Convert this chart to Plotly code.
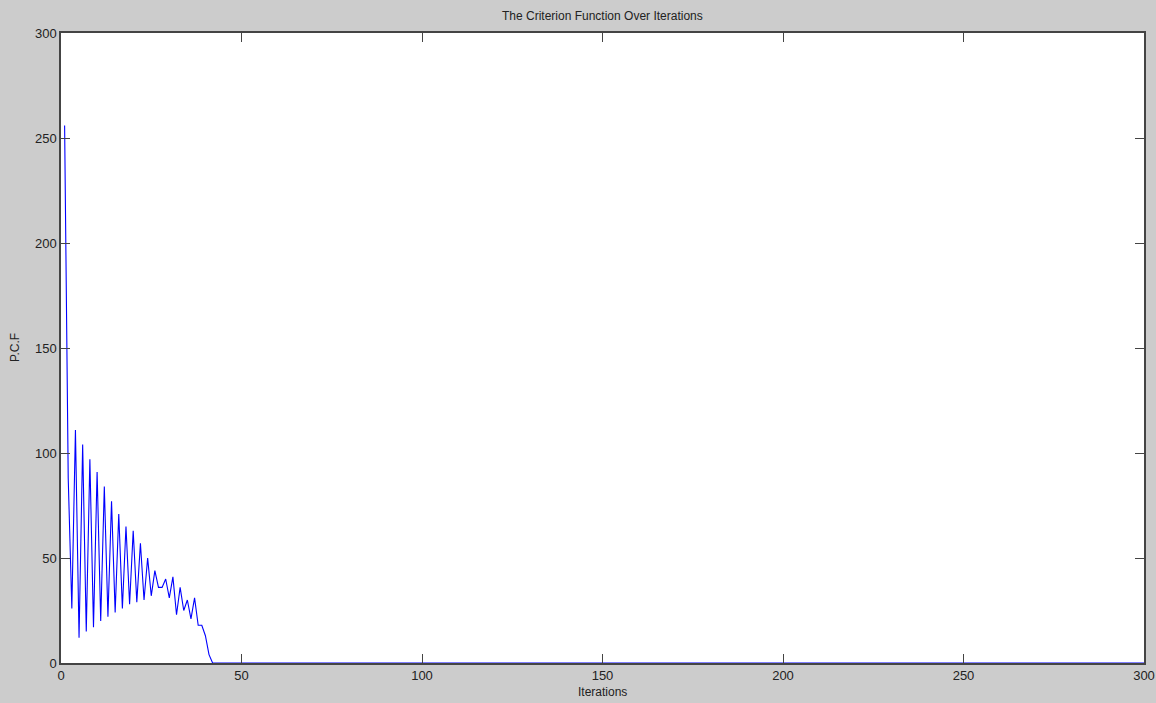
import plotly.graph_objects as go

iterations = list(range(1, 301))
pcf_head = [256, 88, 26, 111, 12, 104, 15, 97, 17, 91,
            20, 84, 22, 77, 24, 71, 26, 65, 28, 63,
            29, 57, 30, 50, 32, 44, 36, 36, 40, 31,
            41, 23, 36, 25, 30, 21, 31, 18, 18, 13,
            4, 0]
pcf_tail = [0] * (300 - len(pcf_head))
pcf = pcf_head + pcf_tail

x_ticks = [0, 50, 100, 150, 200, 250, 300]
y_ticks = [0, 50, 100, 150, 200, 250, 300]

title_text = "The Criterion Function Over Iterations"
x_label = "Iterations"
y_label = "P.C.F"

fig = go.Figure()
fig.add_trace(go.Scatter(x=iterations, y=pcf, mode="lines",
                         line=dict(color="#0000ff", width=1.1),
                         showlegend=False, hoverinfo="x+y"))

axis_common = dict(showgrid=False, zeroline=False, showline=True,
                   linecolor="#444444", linewidth=1.5, mirror="allticks",
                   ticks="inside", ticklen=9, tickcolor="#444444", tickwidth=1.2,
                   automargin=False,
                   tickfont=dict(family="Liberation Sans, Arial", size=13, color="#222222"))

fig.update_layout(
    autosize=False,
    width=1156, height=703,
    paper_bgcolor="#cccccc", plot_bgcolor="#ffffff",
    margin=dict(l=61, r=12, t=33, b=40),
    xaxis=dict(range=[0, 300], tickvals=x_ticks, **axis_common),
    yaxis=dict(range=[0, 300], tickvals=y_ticks, **axis_common),
    font=dict(family="Liberation Sans, Arial", size=12, color="#222222"),
    annotations=[
        dict(text=title_text, xref="paper", yref="paper", x=0.5, y=1, yshift=17,
             xanchor="center", yanchor="middle", showarrow=False,
             font=dict(size=12, color="#222222")),
        dict(text=x_label, xref="paper", yref="paper", x=0.5, y=0, yshift=-29,
             xanchor="center", yanchor="middle", showarrow=False,
             font=dict(size=12, color="#222222")),
        dict(text=y_label, xref="paper", yref="paper", x=0, y=0.5, xshift=-46,
             xanchor="center", yanchor="middle", showarrow=False, textangle=-90,
             font=dict(size=12, color="#222222")),
    ],
)

fig.write_html("out.html",
               config={"displayModeBar": False, "responsive": False},
               post_script="document.body.style.margin='0';document.body.style.overflow='hidden';")
